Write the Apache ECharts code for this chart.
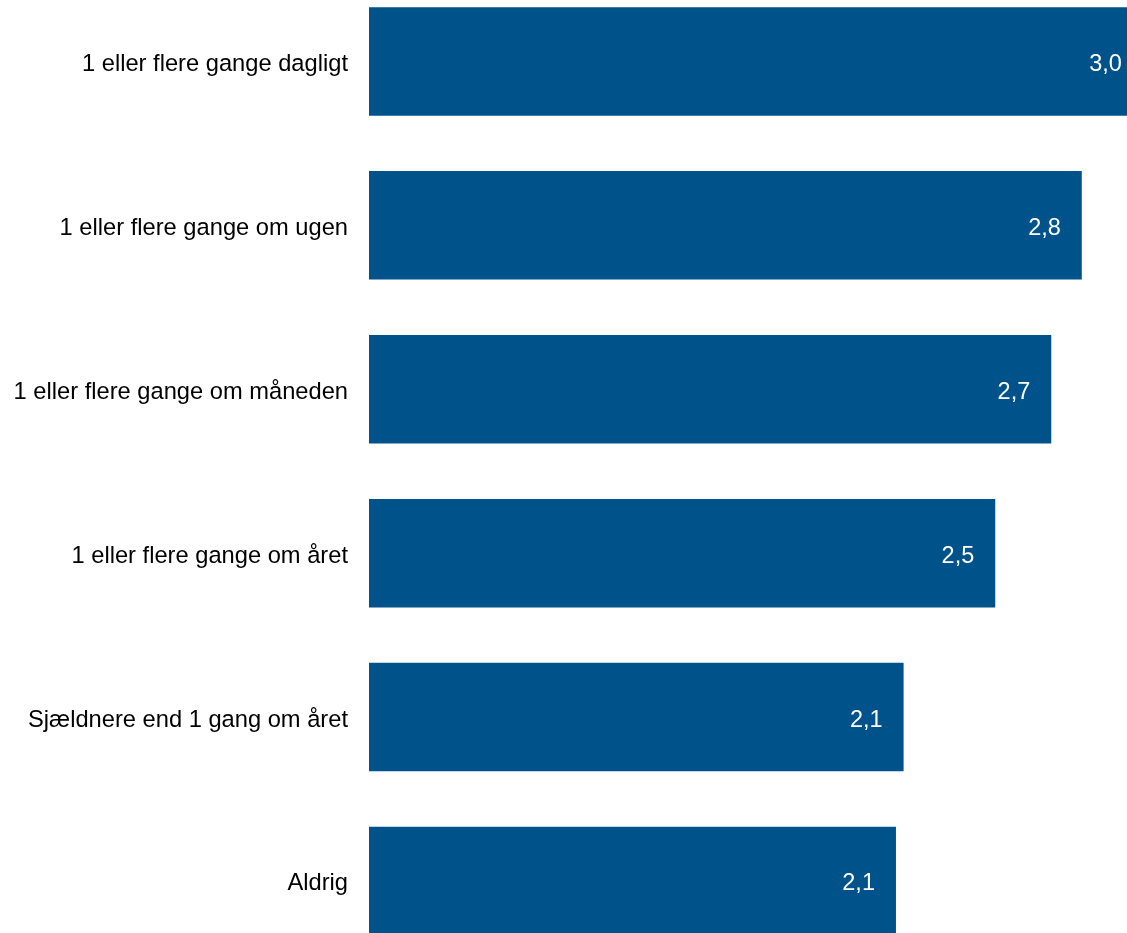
<!DOCTYPE html>
<html>
<head>
<meta charset="utf-8">
<script src="https://cdn.jsdelivr.net/npm/echarts@6/dist/echarts.min.js"></script>
<style>
html,body{margin:0;padding:0;background:#fff;overflow:hidden;width:1127px;height:933px;}
#chart{position:absolute;left:0;top:-21px;width:1300px;height:985px;}
</style>
</head>
<body>
<div id="chart"></div>
<script>
const categories = [
  "1 eller flere gange dagligt",
  "1 eller flere gange om ugen",
  "1 eller flere gange om måneden",
  "1 eller flere gange om året",
  "Sjældnere end 1 gang om året",
  "Aldrig"
];
const values = [3.04, 2.80, 2.68, 2.46, 2.10, 2.07];

const chart = echarts.init(document.getElementById('chart'), null, {renderer: 'canvas'});
chart.setOption({
  animation: false,
  backgroundColor: '#ffffff',
  grid: { left: 369, top: 0.5, width: 891, height: 983.4, containLabel: false },
  xAxis: {
    type: 'value', min: 0, max: 3.5,
    show: false
  },
  yAxis: {
    type: 'category',
    data: categories,
    inverse: true,
    axisLine: { show: false },
    axisTick: { show: false },
    splitLine: { show: false },
    axisLabel: {
      margin: 21,
      formatter: v => '{a|' + v + '}',
      rich: {
        a: {
          fontSize: 23.7,
          color: '#000000',
          padding: [6, 0, 0, 0],
          fontFamily: '"Liberation Sans", Arial, sans-serif'
        }
      }
    }
  },
  series: [{
    type: 'bar',
    data: values,
    barWidth: 108.5,
    itemStyle: { color: '#00538A' },
    label: {
      show: true,
      position: 'insideRight',
      distance: 21,
      offset: [0, 3],
      color: '#ffffff',
      fontSize: 23.5,
      fontFamily: '"Liberation Sans", Arial, sans-serif',
      formatter: p => p.value.toFixed(1).replace('.', ',')
    }
  }]
});
</script>
</body>
</html>
